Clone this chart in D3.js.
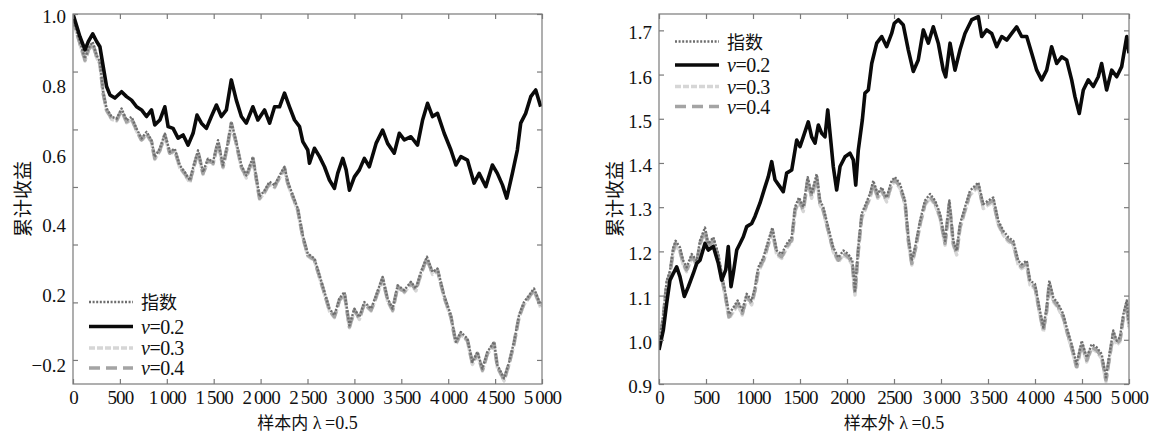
<!DOCTYPE html>
<html><head><meta charset="utf-8">
<script src="https://cdn.jsdelivr.net/npm/d3@7"></script>
<style>body{margin:0;background:#fff}svg{display:block}</style>
</head><body>
<svg id="c" width="1171" height="434"></svg>
<script>
// ---------- DATA ----------
const legendLabels = ["指数", "v=0.2", "v=0.3", "v=0.4"];
const xTickValues = [0, 500, 1000, 1500, 2000, 2500, 3000, 3500, 4000, 4500, 5000];
const leftXTickLabels = ["0","500","1\u2009000","1\u2009500","2\u2009000","2\u2009500","3\u2009000","3\u2009500","4\u2009000","4\u2009500","5\u2009000"];
const rightXTickLabels = ["0","500","1000","1500","2000","2500","3\u2009000","3\u2009500","4\u2009000","4\u2009500","5\u2009000"];
const leftYLabelValues = [1.0, 0.8, 0.6, 0.4, 0.2, 0.0];
const leftYLabels = ["1.0", "0.8", "0.6", "0.4", "0.2", "\u22120.2"];
const leftYTickMarks = [1.0, 0.835, 0.669, 0.504, 0.339, 0.173, 0.008];
const rightYLabelValues = [0.9, 1.0, 1.1, 1.2, 1.3, 1.4, 1.5, 1.6, 1.7];
const rightYLabels = ["0.9","1.0","1.1","1.2","1.3","1.4","1.5","1.6","1.7"];

// in-sample (样本内)
const leftV02 = [[0,1.0],[74,0.935],[128,0.897],[163,0.921],[210,0.943],[252,0.921],[287,0.906],[322,0.849],[358,0.792],[394,0.768],[447,0.759],[518,0.777],[571,0.763],[624,0.753],[678,0.734],[731,0.725],[784,0.706],[837,0.725],[872,0.682],[926,0.696],[979,0.734],[1014,0.677],[1067,0.672],[1120,0.644],[1174,0.653],[1227,0.624],[1280,0.658],[1322,0.710],[1369,0.687],[1422,0.672],[1475,0.706],[1529,0.739],[1582,0.706],[1635,0.725],[1688,0.811],[1741,0.753],[1795,0.706],[1848,0.687],[1918,0.734],[1971,0.696],[2042,0.725],[2096,0.687],[2149,0.734],[2202,0.734],[2255,0.773],[2308,0.734],[2362,0.696],[2415,0.677],[2450,0.634],[2503,0.610],[2521,0.572],[2574,0.615],[2628,0.591],[2681,0.562],[2734,0.524],[2787,0.500],[2822,0.543],[2876,0.586],[2912,0.553],[2947,0.495],[3000,0.533],[3053,0.553],[3106,0.586],[3159,0.562],[3231,0.629],[3301,0.667],[3354,0.629],[3425,0.601],[3479,0.658],[3532,0.639],[3603,0.648],[3673,0.624],[3727,0.696],[3780,0.744],[3833,0.706],[3886,0.715],[3957,0.658],[4029,0.610],[4082,0.567],[4135,0.591],[4205,0.581],[4276,0.515],[4330,0.543],[4401,0.505],[4471,0.567],[4524,0.543],[4578,0.510],[4624,0.472],[4684,0.543],[4737,0.610],[4773,0.687],[4826,0.715],[4880,0.763],[4933,0.782],[4986,0.734]];
const leftV04 = [[0,0.985],[74,0.916],[128,0.868],[163,0.897],[210,0.916],[252,0.878],[287,0.859],[322,0.773],[358,0.725],[412,0.701],[465,0.696],[518,0.725],[571,0.691],[624,0.701],[678,0.667],[731,0.639],[784,0.658],[837,0.634],[872,0.586],[926,0.610],[979,0.653],[1032,0.601],[1085,0.610],[1138,0.562],[1191,0.543],[1245,0.519],[1287,0.562],[1333,0.605],[1386,0.543],[1439,0.581],[1493,0.572],[1546,0.634],[1599,0.562],[1652,0.629],[1688,0.687],[1741,0.629],[1795,0.562],[1848,0.533],[1918,0.586],[1989,0.472],[2042,0.490],[2096,0.515],[2149,0.505],[2202,0.533],[2255,0.558],[2290,0.515],[2344,0.476],[2397,0.438],[2450,0.361],[2503,0.309],[2574,0.295],[2628,0.247],[2681,0.199],[2734,0.151],[2787,0.132],[2840,0.180],[2894,0.199],[2947,0.103],[3000,0.151],[3053,0.127],[3106,0.170],[3178,0.151],[3231,0.189],[3301,0.242],[3354,0.180],[3407,0.151],[3461,0.218],[3532,0.204],[3603,0.228],[3656,0.209],[3709,0.256],[3773,0.300],[3833,0.256],[3886,0.266],[3957,0.189],[4029,0.132],[4082,0.056],[4135,0.084],[4205,0.065],[4258,-0.002],[4312,0.027],[4365,-0.021],[4418,0.027],[4489,0.056],[4524,-0.011],[4560,-0.030],[4596,-0.049],[4649,-0.002],[4702,0.056],[4755,0.132],[4808,0.170],[4862,0.189],[4915,0.209],[4986,0.161]];
const leftV03 = [[0,0.982],[74,0.913],[128,0.865],[163,0.894],[210,0.913],[252,0.875],[287,0.856],[322,0.770],[358,0.722],[412,0.698],[465,0.693],[518,0.722],[571,0.688],[624,0.698],[678,0.664],[731,0.636],[784,0.655],[837,0.631],[872,0.583],[926,0.607],[979,0.650],[1032,0.598],[1085,0.607],[1138,0.559],[1191,0.540],[1245,0.516],[1287,0.559],[1333,0.602],[1386,0.540],[1439,0.578],[1493,0.569],[1546,0.631],[1599,0.559],[1652,0.626],[1688,0.684],[1741,0.626],[1795,0.559],[1848,0.530],[1918,0.583],[1989,0.469],[2042,0.487],[2096,0.512],[2149,0.502],[2202,0.530],[2255,0.555],[2290,0.512],[2344,0.473],[2397,0.435],[2450,0.358],[2503,0.306],[2574,0.292],[2628,0.244],[2681,0.196],[2734,0.148],[2787,0.129],[2840,0.177],[2894,0.196],[2947,0.100],[3000,0.148],[3053,0.124],[3106,0.167],[3178,0.148],[3231,0.186],[3301,0.239],[3354,0.177],[3407,0.148],[3461,0.215],[3532,0.201],[3603,0.225],[3656,0.206],[3709,0.253],[3773,0.297],[3833,0.253],[3886,0.263],[3957,0.186],[4029,0.129],[4082,0.053],[4135,0.081],[4205,0.062],[4258,-0.005],[4312,0.024],[4365,-0.024],[4418,0.024],[4489,0.053],[4524,-0.014],[4560,-0.033],[4596,-0.052],[4649,-0.005],[4702,0.053],[4755,0.129],[4808,0.167],[4862,0.186],[4915,0.206],[4986,0.158]];
const leftIndex = [[0,0.989],[74,0.920],[128,0.872],[163,0.901],[210,0.920],[252,0.882],[287,0.863],[322,0.777],[358,0.729],[412,0.705],[465,0.700],[518,0.729],[571,0.695],[624,0.705],[678,0.671],[731,0.643],[784,0.662],[837,0.638],[872,0.590],[926,0.614],[979,0.657],[1032,0.605],[1085,0.614],[1138,0.566],[1191,0.547],[1245,0.523],[1287,0.566],[1333,0.609],[1386,0.547],[1439,0.585],[1493,0.576],[1546,0.638],[1599,0.566],[1652,0.633],[1688,0.691],[1741,0.633],[1795,0.566],[1848,0.537],[1918,0.590],[1989,0.476],[2042,0.494],[2096,0.519],[2149,0.509],[2202,0.537],[2255,0.562],[2290,0.519],[2344,0.480],[2397,0.442],[2450,0.365],[2503,0.313],[2574,0.299],[2628,0.251],[2681,0.203],[2734,0.155],[2787,0.136],[2840,0.184],[2894,0.203],[2947,0.107],[3000,0.155],[3053,0.131],[3106,0.174],[3178,0.155],[3231,0.193],[3301,0.246],[3354,0.184],[3407,0.155],[3461,0.222],[3532,0.208],[3603,0.232],[3656,0.213],[3709,0.260],[3773,0.304],[3833,0.260],[3886,0.270],[3957,0.193],[4029,0.136],[4082,0.060],[4135,0.088],[4205,0.069],[4258,0.002],[4312,0.031],[4365,-0.017],[4418,0.031],[4489,0.060],[4524,-0.007],[4560,-0.026],[4596,-0.045],[4649,0.002],[4702,0.060],[4755,0.136],[4808,0.174],[4862,0.193],[4915,0.213],[4986,0.165]];

// out-of-sample (样本外)
const rightV02 = [[0,0.977],[46,1.022],[82,1.083],[117,1.135],[152,1.150],[188,1.165],[223,1.143],[269,1.098],[312,1.120],[365,1.150],[401,1.173],[436,1.180],[489,1.218],[524,1.203],[578,1.211],[631,1.173],[667,1.135],[710,1.158],[737,1.211],[766,1.120],[790,1.150],[827,1.203],[862,1.218],[897,1.233],[933,1.256],[986,1.263],[1021,1.279],[1074,1.309],[1128,1.346],[1163,1.369],[1199,1.403],[1234,1.362],[1287,1.346],[1322,1.335],[1358,1.377],[1412,1.384],[1465,1.452],[1500,1.437],[1535,1.459],[1588,1.493],[1624,1.459],[1660,1.445],[1695,1.486],[1731,1.467],[1766,1.459],[1795,1.520],[1830,1.445],[1854,1.392],[1890,1.339],[1926,1.392],[1979,1.414],[2032,1.422],[2067,1.407],[2093,1.350],[2120,1.429],[2163,1.497],[2191,1.558],[2227,1.565],[2263,1.625],[2316,1.671],[2369,1.686],[2422,1.663],[2475,1.693],[2503,1.716],[2546,1.724],[2599,1.712],[2652,1.656],[2705,1.607],[2758,1.633],[2812,1.701],[2865,1.671],[2918,1.708],[2971,1.671],[3024,1.610],[3050,1.595],[3096,1.671],[3149,1.610],[3202,1.656],[3255,1.693],[3327,1.724],[3397,1.731],[3433,1.686],[3486,1.701],[3539,1.693],[3592,1.663],[3646,1.686],[3699,1.678],[3752,1.693],[3805,1.708],[3858,1.686],[3912,1.686],[3965,1.648],[4018,1.610],[4071,1.588],[4124,1.610],[4177,1.663],[4231,1.625],[4284,1.640],[4337,1.633],[4390,1.588],[4425,1.550],[4471,1.512],[4514,1.565],[4567,1.588],[4620,1.573],[4673,1.595],[4709,1.625],[4762,1.565],[4816,1.610],[4869,1.595],[4922,1.618],[4976,1.686],[5000,1.648]];
const rightV04 = [[0,0.985],[46,1.052],[82,1.128],[117,1.150],[152,1.203],[177,1.218],[223,1.203],[258,1.173],[294,1.158],[348,1.188],[401,1.173],[436,1.218],[489,1.248],[524,1.211],[578,1.226],[631,1.188],[667,1.143],[702,1.105],[745,1.052],[790,1.067],[837,1.083],[886,1.060],[933,1.098],[986,1.083],[1021,1.113],[1056,1.158],[1110,1.180],[1163,1.218],[1206,1.248],[1252,1.196],[1305,1.188],[1358,1.211],[1412,1.226],[1447,1.294],[1489,1.316],[1535,1.294],[1582,1.362],[1624,1.324],[1677,1.369],[1713,1.309],[1748,1.294],[1801,1.248],[1854,1.203],[1908,1.180],[1961,1.196],[2014,1.188],[2057,1.173],[2085,1.105],[2120,1.203],[2156,1.279],[2199,1.301],[2244,1.324],[2280,1.354],[2327,1.324],[2369,1.339],[2422,1.316],[2475,1.354],[2511,1.362],[2565,1.346],[2618,1.309],[2653,1.226],[2689,1.173],[2724,1.203],[2777,1.263],[2830,1.309],[2884,1.324],[2937,1.309],[2990,1.279],[3043,1.218],[3089,1.309],[3131,1.218],[3167,1.196],[3202,1.256],[3255,1.294],[3308,1.331],[3397,1.350],[3450,1.301],[3503,1.309],[3556,1.316],[3610,1.263],[3663,1.241],[3716,1.226],[3769,1.218],[3822,1.173],[3858,1.165],[3912,1.173],[3947,1.128],[4000,1.120],[4046,1.067],[4089,1.022],[4124,1.067],[4152,1.128],[4195,1.090],[4248,1.075],[4301,1.052],[4337,1.022],[4390,0.984],[4443,0.939],[4497,0.992],[4550,0.954],[4603,0.984],[4656,0.977],[4709,0.962],[4755,0.909],[4798,0.969],[4833,1.015],[4869,0.992],[4904,1.000],[4940,1.052],[4976,1.083],[5000,1.030]];
const rightV03 = [[0,0.981],[46,1.048],[82,1.124],[117,1.146],[152,1.199],[177,1.214],[223,1.199],[258,1.169],[294,1.154],[348,1.184],[401,1.169],[436,1.214],[489,1.244],[524,1.207],[578,1.222],[631,1.184],[667,1.139],[702,1.101],[745,1.048],[790,1.063],[837,1.079],[886,1.056],[933,1.094],[986,1.079],[1021,1.109],[1056,1.154],[1110,1.176],[1163,1.214],[1206,1.244],[1252,1.192],[1305,1.184],[1358,1.207],[1412,1.222],[1447,1.290],[1489,1.312],[1535,1.290],[1582,1.358],[1624,1.320],[1677,1.365],[1713,1.305],[1748,1.290],[1801,1.244],[1854,1.199],[1908,1.176],[1961,1.192],[2014,1.184],[2057,1.169],[2085,1.101],[2120,1.199],[2156,1.275],[2199,1.297],[2244,1.320],[2280,1.350],[2327,1.320],[2369,1.335],[2422,1.312],[2475,1.350],[2511,1.358],[2565,1.342],[2618,1.305],[2653,1.222],[2689,1.169],[2724,1.199],[2777,1.259],[2830,1.305],[2884,1.320],[2937,1.305],[2990,1.275],[3043,1.214],[3089,1.305],[3131,1.214],[3167,1.192],[3202,1.252],[3255,1.290],[3308,1.327],[3397,1.346],[3450,1.297],[3503,1.305],[3556,1.312],[3610,1.259],[3663,1.237],[3716,1.222],[3769,1.214],[3822,1.169],[3858,1.161],[3912,1.169],[3947,1.124],[4000,1.116],[4046,1.063],[4089,1.018],[4124,1.063],[4152,1.124],[4195,1.086],[4248,1.071],[4301,1.048],[4337,1.018],[4390,0.980],[4443,0.935],[4497,0.988],[4550,0.950],[4603,0.980],[4656,0.973],[4709,0.958],[4755,0.905],[4798,0.965],[4833,1.011],[4869,0.988],[4904,0.996],[4940,1.048],[4976,1.079],[5000,1.026]];
const rightIndex = [[0,0.990],[46,1.058],[82,1.134],[117,1.156],[152,1.209],[177,1.224],[223,1.209],[258,1.179],[294,1.164],[348,1.194],[401,1.179],[436,1.224],[489,1.254],[524,1.217],[578,1.232],[631,1.194],[667,1.149],[702,1.111],[745,1.058],[790,1.073],[837,1.089],[886,1.066],[933,1.104],[986,1.089],[1021,1.119],[1056,1.164],[1110,1.186],[1163,1.224],[1206,1.254],[1252,1.202],[1305,1.194],[1358,1.217],[1412,1.232],[1447,1.300],[1489,1.322],[1535,1.300],[1582,1.368],[1624,1.330],[1677,1.375],[1713,1.315],[1748,1.300],[1801,1.254],[1854,1.209],[1908,1.186],[1961,1.202],[2014,1.194],[2057,1.179],[2085,1.111],[2120,1.209],[2156,1.285],[2199,1.307],[2244,1.330],[2280,1.360],[2327,1.330],[2369,1.345],[2422,1.322],[2475,1.360],[2511,1.368],[2565,1.352],[2618,1.315],[2653,1.232],[2689,1.179],[2724,1.209],[2777,1.269],[2830,1.315],[2884,1.330],[2937,1.315],[2990,1.285],[3043,1.224],[3089,1.315],[3131,1.224],[3167,1.202],[3202,1.262],[3255,1.300],[3308,1.337],[3397,1.356],[3450,1.307],[3503,1.315],[3556,1.322],[3610,1.269],[3663,1.247],[3716,1.232],[3769,1.224],[3822,1.179],[3858,1.171],[3912,1.179],[3947,1.134],[4000,1.126],[4046,1.073],[4089,1.028],[4124,1.073],[4152,1.134],[4195,1.096],[4248,1.081],[4301,1.058],[4337,1.028],[4390,0.990],[4443,0.945],[4497,0.998],[4550,0.960],[4603,0.990],[4656,0.983],[4709,0.968],[4755,0.915],[4798,0.975],[4833,1.021],[4869,0.998],[4904,1.006],[4940,1.058],[4976,1.089],[5000,1.036]];

// ---------- STYLES ----------
const SERIF = "'Liberation Serif','Times New Roman',serif";
const CJK = "'Noto Sans CJK SC','Noto Sans CJK JP',sans-serif";
const styles = [
  {color:"#6e6e6e", width:2.4, dash:"2,1.6"},   // 指数
  {color:"#0a0a0a", width:3.6, dash:null},      // v=0.2
  {color:"#d6d6d6", width:3.4, dash:"6,2"},     // v=0.3
  {color:"#a4a4a4", width:3.6, dash:"11,5"}     // v=0.4
];
const svg = d3.select("#c");

function drawPanel(o){
  const top = 14, bottom = 384;
  const x = d3.scaleLinear().domain([0,5000]).range([o.left, o.right]);
  const y = d3.scaleLinear().domain(o.yDomain).range([bottom, top]);
  const g = svg.append("g");
  const clipId = "clip" + o.id;
  svg.append("clipPath").attr("id", clipId).append("rect")
    .attr("x", o.left).attr("y", top).attr("width", o.right - o.left).attr("height", bottom - top);

  const line = d3.line().x(d => x(d[0])).y(d => y(d[1]));
  const lg = g.append("g").attr("clip-path", `url(#${clipId})`);
  [2,3,0,1].forEach(i => {
    lg.append("path").datum(o.series[i]).attr("d", line)
      .attr("fill","none").attr("stroke", styles[i].color)
      .attr("stroke-width", styles[i].width)
      .attr("stroke-dasharray", styles[i].dash)
      .attr("stroke-linejoin","round");
  });

  g.append("rect").attr("x", o.left).attr("y", top)
    .attr("width", o.right - o.left).attr("height", bottom - top)
    .attr("fill","none").attr("stroke","#7a7a7a").attr("stroke-width",1.2);

  const tickStyle = sel => { sel.select(".domain").remove(); sel.selectAll("line").attr("stroke","#7a7a7a").attr("stroke-width",1.2); };
  g.append("g").attr("transform",`translate(0,${bottom})`)
    .call(d3.axisBottom(x).tickValues(xTickValues).tickSizeInner(-5).tickSizeOuter(0).tickPadding(7)
      .tickFormat((d,i) => o.xLabels[i]))
    .call(tickStyle)
    .call(s => s.selectAll("text").attr("font-family", SERIF).attr("font-size", 19)
      .attr("letter-spacing", "-0.9px").attr("fill","#111"));
  g.append("g").attr("transform",`translate(0,${top})`)
    .call(d3.axisTop(x).tickValues(xTickValues).tickSizeInner(-5).tickSizeOuter(0).tickFormat(""))
    .call(tickStyle);
  g.append("g").attr("transform",`translate(${o.left},0)`)
    .call(d3.axisLeft(y).tickValues(o.yTickMarks).tickSizeInner(-5).tickSizeOuter(0).tickFormat(""))
    .call(tickStyle);
  g.append("g").attr("transform",`translate(${o.right},0)`)
    .call(d3.axisRight(y).tickValues(o.yTickMarks).tickSizeInner(-5).tickSizeOuter(0).tickFormat(""))
    .call(tickStyle);
  g.append("g").attr("transform",`translate(${o.left},0)`)
    .call(d3.axisLeft(y).tickValues(o.yLabelValues).tickSize(0).tickPadding(7)
      .tickFormat((d,i) => o.yLabels[i]))
    .call(s => s.select(".domain").remove())
    .call(s => s.selectAll("text").attr("font-family", SERIF).attr("font-size", 19)
      .attr("dy","0.45em").attr("fill","#111"));

  g.append("text").attr("transform",`translate(${o.yTitleX},199) rotate(-90)`)
    .attr("text-anchor","middle").attr("dominant-baseline","central")
    .attr("font-family", CJK).attr("font-size", 19).attr("fill","#111").text("累计收益");

  const xt = g.append("text").attr("x",(o.left+o.right)/2).attr("y",429)
    .attr("text-anchor","middle").attr("fill","#111");
  xt.append("tspan").attr("font-family", CJK).attr("font-size",17).text(o.xTitle);
  xt.append("tspan").attr("font-family", SERIF).attr("font-size",18).text(" λ\u2009=0.5");

  const lgd = g.append("g");
  legendLabels.forEach((lab, i) => {
    const ry = o.legendRows[i];
    lgd.append("line").attr("x1", o.legendX).attr("x2", o.legendX + 44)
      .attr("y1", ry).attr("y2", ry)
      .attr("stroke", styles[i].color).attr("stroke-width", styles[i].width)
      .attr("stroke-dasharray", i===3 ? "11,6" : styles[i].dash);
    const t = lgd.append("text").attr("x", o.legendX + 52).attr("fill","#111");
    if (i === 0) {
      t.attr("y", ry + 7).attr("font-family", CJK).attr("font-size", 18).text(lab);
    } else {
      t.attr("y", ry + 7).attr("font-family", SERIF).attr("font-size", 20).attr("letter-spacing","-0.5px");
      t.append("tspan").attr("font-style","italic").text(lab.charAt(0));
      t.append("tspan").text(lab.slice(1));
    }
  });
}

drawPanel({
  id: "L", left: 73, right: 542, yDomain: [-0.061, 1.0],
  yLabelValues: leftYLabelValues, yLabels: leftYLabels, yTickMarks: leftYTickMarks,
  xLabels: leftXTickLabels, xTitle: "样本内", yTitleX: 21,
  legendX: 89, legendRows: [302, 326.5, 348, 368],
  series: [leftIndex, leftV02, leftV03, leftV04]
});
drawPanel({
  id: "R", left: 659, right: 1129, yDomain: [0.9, 1.737],
  yLabelValues: rightYLabelValues, yLabels: rightYLabels, yTickMarks: rightYLabelValues,
  xLabels: rightXTickLabels, xTitle: "样本外", yTitleX: 613,
  legendX: 675, legendRows: [41.5, 65, 86.5, 106.5],
  series: [rightIndex, rightV02, rightV03, rightV04]
});
</script>
</body></html>
